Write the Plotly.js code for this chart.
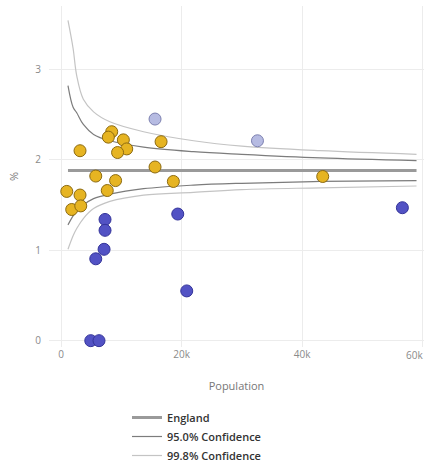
<!DOCTYPE html>
<html>
<head>
<meta charset="utf-8">
<script src="https://cdn.plot.ly/plotly-3.0.1.min.js"></script>
<style>html,body{margin:0;padding:0;background:#fff;}#chart{width:424px;height:470px;}</style>
</head>
<body>
<div id="chart"></div>
<script>
// Confidence limit curves (population, %)
var ciPop      = [1150, 2000, 2600, 3700, 5400, 8100, 13700, 22000, 30000, 43000, 59000];
var upper998   = [3.54, 3.23, 2.93, 2.67, 2.53, 2.42, 2.31, 2.21, 2.15, 2.10, 2.06];
var upper95    = [2.82, 2.58, 2.52, 2.39, 2.28, 2.21, 2.14, 2.09, 2.06, 2.02, 1.99];
var lower95    = [1.28, 1.38, 1.43, 1.50, 1.57, 1.62, 1.68, 1.72, 1.74, 1.76, 1.77];
var lower998   = [1.01, 1.16, 1.24, 1.35, 1.46, 1.54, 1.61, 1.64, 1.67, 1.69, 1.71];
var englandPop = [1150, 59000];
var englandVal = [1.88, 1.88];

// Areas similar to England (amber)
var similarPop = [950, 3150, 1770, 3270, 5760, 9050, 7670, 15600, 18640, 3150, 8410, 7850, 10340, 10900, 9380, 16600, 43430];
var similarVal = [1.65, 1.61, 1.45, 1.49, 1.82, 1.77, 1.66, 1.92, 1.76, 2.10, 2.31, 2.25, 2.22, 2.12, 2.08, 2.20, 1.815];
// Significantly lower (dark blue)
var lowerPop = [7300, 7300, 7140, 5760, 19370, 20860, 4930, 6300, 56650];
var lowerVal = [1.34, 1.22, 1.01, 0.905, 1.40, 0.55, 0, 0, 1.47];
// Significantly higher (light blue)
var higherPop = [15600, 32600];
var higherVal = [2.45, 2.21];

var xTicks = [0, 20000, 40000, 60000];
var xTickText = ['0', '20k', '40k', '60k'];
var yTicks = [0, 1, 2, 3];

var fontFam = 'Open Sans, Noto Sans, sans-serif';

var traces = [
  {x: ciPop, y: upper998, mode: 'lines', line: {color: '#c4c4c4', width: 1.2, shape: 'spline'}, name: '99.8% Confidence', legendgroup: 'c998', showlegend: false, hoverinfo: 'skip'},
  {x: ciPop, y: upper95, mode: 'lines', line: {color: '#7c7c7c', width: 1.2, shape: 'spline'}, name: '95.0% Confidence', legendgroup: 'c95', showlegend: false, hoverinfo: 'skip'},
  {x: englandPop, y: englandVal, mode: 'lines', line: {color: '#9a9a9a', width: 3}, name: 'England', legendrank: 1},
  {x: ciPop, y: lower95, mode: 'lines', line: {color: '#7c7c7c', width: 1.2, shape: 'spline'}, name: '95.0% Confidence', legendgroup: 'c95', legendrank: 2},
  {x: ciPop, y: lower998, mode: 'lines', line: {color: '#c4c4c4', width: 1.2, shape: 'spline'}, name: '99.8% Confidence', legendgroup: 'c998', legendrank: 3},
  {x: similarPop, y: similarVal, mode: 'markers', showlegend: false,
   marker: {size: 12, color: '#e6b422', line: {color: '#8c6a10', width: 1}}},
  {x: lowerPop, y: lowerVal, mode: 'markers', showlegend: false, cliponaxis: false,
   marker: {size: 12, color: '#5252c4', line: {color: '#34349a', width: 1}}},
  {x: higherPop, y: higherVal, mode: 'markers', showlegend: false,
   marker: {size: 12, color: '#b6bbe2', line: {color: '#7c80b0', width: 1}}}
];

// The last tick label is justified inward so it stays inside the picture
var shownTickText = xTickText.slice(0, xTickText.length - 1).concat(['']);

var layout = {
  width: 424, height: 470,
  margin: {l: 49, r: 0, t: 6, b: 122},
  paper_bgcolor: '#fff', plot_bgcolor: '#fff',
  font: {family: fontFam, size: 10, color: '#888'},
  showlegend: true,
  xaxis: {
    range: [-2000, 60240], tickvals: xTicks, ticktext: shownTickText,
    showgrid: true, gridcolor: '#ececec', zeroline: false, showline: false,
    tickfont: {size: 10, color: '#8a8a8a'},
    title: {text: 'Population', font: {size: 11, color: '#777'}, standoff: 22}
  },
  yaxis: {
    range: [-0.07, 3.7], tickvals: yTicks,
    showgrid: true, gridcolor: '#ececec', zeroline: false, showline: false,
    tickfont: {size: 10, color: '#8a8a8a'}, ticklabelstandoff: 7,
    title: {text: '%', font: {size: 11, color: '#777'}, standoff: 14}
  },
  annotations: [{
    text: xTickText[xTickText.length - 1], xref: 'x', x: xTicks[xTicks.length - 1],
    yref: 'paper', y: 0, xanchor: 'right', yanchor: 'top', xshift: 2, yshift: 1,
    showarrow: false, font: {size: 10, color: '#8a8a8a', family: fontFam}
  }],
  legend: {
    x: 0.208, xanchor: 'left', y: -0.164, yanchor: 'top',
    orientation: 'v', traceorder: 'normal',
    font: {size: 11, color: '#333', weight: 600},
    itemwidth: 30, tracegroupgap: 0, bgcolor: 'rgba(0,0,0,0)'
  }
};

Plotly.newPlot('chart', traces, layout, {displayModeBar: false, staticPlot: true});
</script>
</body>
</html>
